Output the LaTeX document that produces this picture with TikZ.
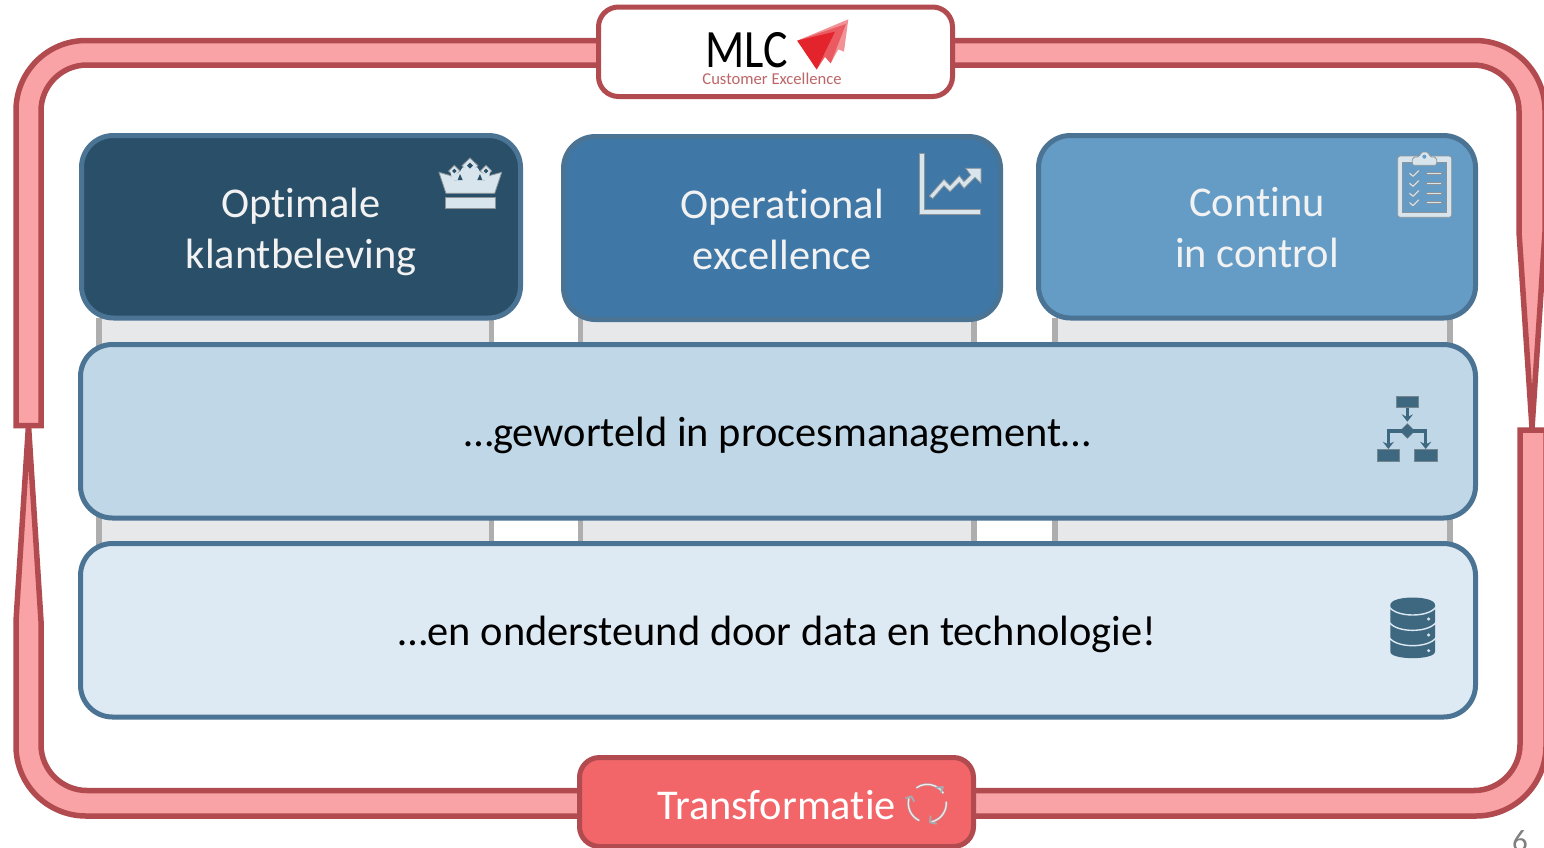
\documentclass[tikz,border=0pt]{standalone}
\usepackage{fontspec}
\setmainfont[Ligatures=NoCommon]{Carlito}
\definecolor{bandfill}{HTML}{F9A3A6}
\definecolor{bandline}{HTML}{B14B4F}
\definecolor{boxline}{HTML}{4A7394}
\definecolor{boxa}{HTML}{2A5069}
\definecolor{boxb}{HTML}{3F78A6}
\definecolor{boxc}{HTML}{649CC6}
\definecolor{boxd}{HTML}{C0D7E8}
\definecolor{boxe}{HTML}{DEEAF3}
\definecolor{colfill}{HTML}{E7E8EA}
\definecolor{colline}{HTML}{AEAEAE}
\definecolor{tfill}{HTML}{F26669}
\definecolor{iconlight}{HTML}{D9E5EC}
\definecolor{icongray}{HTML}{8C9499}
\definecolor{icondark}{HTML}{3D6880}
\definecolor{logoa}{HTML}{E4242C}
\definecolor{logob}{HTML}{EA5A60}
\definecolor{logoc}{HTML}{F09296}
\tikzset{
  band/.style={draw=bandline,fill=bandfill,line width=5.5pt},
  panel/.style={draw=boxline,line width=5pt,rectangle,inner sep=0pt,rounded corners=32pt},
  label/.style={inner sep=0pt,align=center,font=\fontsize{42.4}{51}\selectfont},
  redbox/.style={draw=bandline,line width=5pt,rectangle,inner sep=0pt,rounded corners=20pt},
  column/.style={fill=colfill},
  colside/.style={draw=colline,line width=5.5pt},
  iconl/.style={fill=iconlight,draw=icongray,line width=.8pt},
  icond/.style={fill=icondark,draw=icongray!70!icondark,line width=.6pt},
  px/.style={x=.3333pt,y=-.3333pt},
}
\begin{document}
\begin{tikzpicture}[x=1pt,y=-1pt]
\useasboundingbox (0,0) rectangle (1544,847);
\clip (0,0) rectangle (1544,847);
\fill[white] (0,0) rectangle (1544,847);
% frame bands
\draw[band] (16,425.5) [rounded corners=70pt] -- (16,40.5) -- (1545,40.5) [sharp corners] -- (1545,232) -- (1532,428) -- (1519,232) [rounded corners=46pt] -- (1519,65) -- (41,65) [sharp corners] -- (41,425.5) -- cycle;
\draw[band] (1520,430) [rounded corners=46pt] -- (1520,790.5) -- (41,790.5) [sharp corners] -- (41,621) -- (28.5,425) -- (16,621) [rounded corners=70pt] -- (16,816) -- (1546,816) [sharp corners] -- (1546,430) -- cycle;
% columns
\foreach \l/\r in {99/491.5,580.5/974,1055/1450}{
  \fill[column] (\l,318) rectangle (\r,545);
  \draw[colside] (\l,318) -- (\l,545);
  \draw[colside] (\r,318) -- (\r,545);
}
\fill[white] (494.5,520) rectangle (577.5,541);
\fill[white] (977,520) rectangle (1052,541);
% panels
\node[panel,fill=boxa,minimum width=439pt,minimum height=182.5pt] (p1) at (301,226.75) {};
\node[panel,fill=boxb,minimum width=437pt,minimum height=183pt] (p2) at (782,228) {};
\node[panel,fill=boxc,minimum width=437pt,minimum height=182.5pt] (p3) at (1257,226.75) {};
\node[panel,fill=boxd,minimum width=1395pt,minimum height=173.5pt] (p4) at (778,431.25) {};
\node[panel,fill=boxe,minimum width=1395pt,minimum height=173.5pt] (p5) at (778,630.25) {};
\node[label,text=white!95!black] (t1) at (301,231.5) {Optimale\\klantbeleving};
\node[label,text=white!95!black] (t2) at (782,229) {Operational\\excellence};
\node[label,text=white!95!black] (t3) at (1257,227.8) {Continu\\in control};
\node[label,text=black] (t4) at (777.5,435.2) {…geworteld in procesmanagement…};
\node[label,text=black] (t5) at (777.5,634.2) {…en ondersteund door data en technologie!};
% logo box
\node[redbox,fill=white,minimum width=354pt,minimum height=89.5pt] (logo) at (775.5,51.75) {};
\node[inner sep=0pt,text depth=0pt,text height=34pt,transform shape,xscale=.85,font=\fontsize{54}{54}\selectfont,text=black] (mlc) at (747,50) {MLC};
\node[inner sep=0pt,font=\fontsize{16.6}{17}\selectfont,text=bandline!85!white] (ce) at (772,78.5) {Customer Excellence};
\begin{scope}[shift={(590,0)},px]
  \fill[logoc] (622,122) -- (775,58) -- (762,155) -- (745,148) -- (722,190) -- (705,170) -- (680,208) -- cycle;
  \fill[logob] (622,122) -- (768,72) -- (722,190) -- (705,170) -- (680,208) -- cycle;
  \fill[logoa] (622,122) -- (735,95) -- (680,208) -- cycle;
\end{scope}
% transformatie box
\node[redbox,fill=tfill,minimum width=394pt,minimum height=89pt] (trans) at (776.5,802) {};
\node[label,text=white] (tlabel) at (776.5,805) {Transformatie};
% crown
\begin{scope}[shift={(420,130)},px]
  \draw[iconl] (103,106) -- (120,123) -- (103,140) -- (86,123) -- cycle;
  \draw[iconl] (150,84) -- (174,107) -- (150,131) -- (126,107) -- cycle;
  \draw[iconl] (198,106) -- (215,123) -- (198,140) -- (181,123) -- cycle;
  \draw[iconl] (78,190) -- (57,127) -- (92,137) -- (104,150) -- (122,148) -- (133,122) -- (150,130) -- (167,122) -- (178,148) -- (194,150) -- (208,137) -- (245,127) -- (224,190) -- cycle;
  \fill[iconlight] (92,125) -- (103,136) -- (120,125) -- (128,112) -- (172,112) -- (180,125) -- (198,136) -- (210,125) -- (206,150) -- (96,150) -- cycle;
  \fill[boxa] (103,116) -- (110,123) -- (103,130) -- (96,123) -- cycle;
  \fill[boxa] (150,98) -- (159,107) -- (150,116) -- (141,107) -- cycle;
  \fill[boxa] (198,116) -- (205,123) -- (198,130) -- (191,123) -- cycle;
  \fill[boxa] (113,150) -- (120,132) -- (128,150) -- cycle;
  \fill[boxa] (172,150) -- (180,132) -- (187,150) -- cycle;
  \draw[iconl] (77,202) rectangle (225,236);
\end{scope}
% chart
\begin{scope}[shift={(900,140)},px]
  \draw[iconl] (58,40) -- (73,40) -- (73,208) -- (242,208) -- (242,224) -- (58,224) -- cycle;
  \draw[iconl] (88,168) -- (132,118) -- (150,137) -- (178,107) -- (192,125) -- (212,105) -- (197,85) -- (243,85) -- (243,130) -- (225,112) -- (192,145) -- (178,127) -- (150,155) -- (132,137) -- (98,176) -- cycle;
\end{scope}
% clipboard
\begin{scope}[shift={(1380,140)},px]
  \draw[iconl,rounded corners=2.5pt] (53,48) rectangle (215,232);
  \draw[fill=boxc,draw=icongray,line width=.6pt] (67,66) rectangle (200,218);
  \draw[iconl,rounded corners=2pt] (97,76) -- (97,52) -- (120,50) -- (122,36) -- (146,36) -- (148,50) -- (170,52) -- (170,76) -- cycle;
  \fill[boxc] (133,50) circle[radius=2pt];
  \foreach \y in {100,130,160,188}{
    \draw[icongray,line width=2pt,line cap=round,line join=round] (89,\y) -- (99,\y+9) -- (116,\y-8);
    \draw[iconlight,line width=1.1pt,line cap=round,line join=round] (89,\y) -- (99,\y+9) -- (116,\y-8);
    \draw[iconl,line width=.5pt] (138,\y-3) rectangle (183,\y+3);
  }
\end{scope}
% process
\begin{scope}[shift={(1360,385)},px]
  \draw[icond] (108,34) rectangle (176,68);
  \draw[icond] (142,116) -- (164,138) -- (142,160) -- (120,138) -- cycle;
  \draw[icond] (52,194) rectangle (119,229);
  \draw[icond] (164,194) rectangle (232,229);
  \draw[icondark,line width=3.2pt] (142,68) -- (142,100);
  \draw[icondark,line width=3.2pt] (125,138) -- (85,138) -- (85,176);
  \draw[icondark,line width=3.2pt] (160,138) -- (197,138) -- (197,176);
  \fill[icondark] (125,88) -- (142,96) -- (159,88) -- (142,110) -- cycle;
  \fill[icondark] (68,170) -- (85,178) -- (102,170) -- (85,192) -- cycle;
  \fill[icondark] (180,170) -- (197,178) -- (214,170) -- (197,192) -- cycle;
\end{scope}
% database
\begin{scope}[shift={(1370,585)},px]
  \fill[icondark] (61,60) .. controls (61,30) and (195,30) .. (195,60) -- (195,200) .. controls (195,226) and (61,226) .. (61,200) -- cycle;
  \foreach \y in {66,112,158}{
    \draw[boxe,line width=1.4pt] (58,\y) .. controls (80,\y+32) and (176,\y+32) .. (198,\y);
  }
  \foreach \y in {102,150,197}{ \fill[iconlight] (176,\y) circle[radius=1.7pt]; }
\end{scope}
% refresh
\begin{scope}[shift={(570,745)},px]
  \foreach \s/\e in {-125/-32,-5/78,115/195}{
    \draw[icongray!70!iconlight,line width=2.4pt] ({1072+57*cos(\s)},{175+57*sin(\s)}) arc[start angle=\s,end angle=\e,radius=57];
    \draw[white!85!tfill,line width=1.2pt] ({1072+57*cos(\s)},{175+57*sin(\s)}) arc[start angle=\s,end angle=\e,radius=57];
  }
  \draw[icongray!70!iconlight,line width=1.8pt,line join=round] (1098,128) -- (1119,126) -- (1112,143);
  \draw[icongray!70!iconlight,line width=1.8pt,line join=round] (1082,212) -- (1080,232) -- (1100,236);
  \draw[icongray!70!iconlight,line width=1.8pt,line join=round] (1006,160) -- (1024,154) -- (1033,170);
\end{scope}
\node[inner sep=0pt,text=gray,font=\fontsize{31}{33}\selectfont] (pagenum) at (1520,841) {6};
\end{tikzpicture}
\end{document}
